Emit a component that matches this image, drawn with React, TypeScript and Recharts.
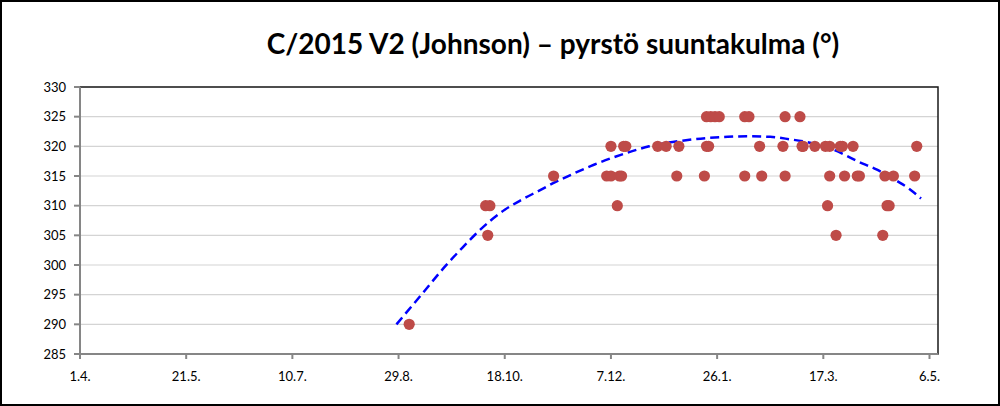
import React from "react";
import {
  ComposedChart,
  Scatter,
  Line,
  XAxis,
  YAxis,
  CartesianGrid,
  ReferenceArea,
} from "recharts";

// Day 0 = 1.4. (x axis in days)
const tickDays = [0, 50, 100, 150, 200, 250, 300, 350, 400];
const tickLabels = ["1.4.", "21.5.", "10.7.", "29.8.", "18.10.", "7.12.", "26.1.", "17.3.", "6.5."];
const yTicks = [285, 290, 295, 300, 305, 310, 315, 320, 325, 330];

const obsDays = [
  155,
  192, 356, 378,
  191, 193, 253, 352, 380, 381,
  223, 248, 250, 254, 255, 281, 294, 313, 321, 332, 353, 360, 366, 367, 379, 383, 393,
  250, 256, 257, 272, 276, 282, 295, 296, 320, 331, 340, 340.5, 346, 351, 353, 358, 359, 364, 394,
  295, 297, 299, 301, 313, 315, 332, 339,
];
const obsAngles = [
  290,
  305, 305, 305,
  310, 310, 310, 310, 310, 310,
  315, 315, 315, 315, 315, 315, 315, 315, 315, 315, 315, 315, 315, 315, 315, 315, 315,
  320, 320, 320, 320, 320, 320, 320, 320, 320, 320, 320, 320, 320, 320, 320, 320, 320, 320, 320,
  325, 325, 325, 325, 325, 325, 325, 325,
];

const trendDays = [149, 161, 172, 180, 186, 193, 200, 208, 216, 224, 233, 242, 255, 268, 287, 305, 314, 325, 334, 341, 355, 366, 375, 385, 391, 396];
const trendValues = [290, 295.1, 299.8, 302.9, 305.1, 307.4, 309.3, 311.0, 312.5, 314.0, 315.5, 316.9, 318.6, 320.0, 321.1, 321.6, 321.7, 321.6, 321.2, 320.8, 319.4, 317.5, 316.1, 314.1, 312.7, 311.2];

const points = obsDays.map((d, i) => ({ d, v: obsAngles[i] }));
const trend = trendDays.map((d, i) => ({ d, t: trendValues[i] }));

const FONT = "Lato, 'Open Sans', sans-serif";

const Dot = (p: any) => {
  if (p.cx == null || p.cy == null) return null;
  return <circle cx={p.cx} cy={p.cy} r={5.6} fill="#BE4B48" />;
};

export default function App() {
  return (
    <div
      style={{
        position: "absolute",
        left: 0,
        top: 0,
        width: 1000,
        height: 406,
        background: "#fff",
        boxSizing: "border-box",
        border: "2.5px solid #000",
        overflow: "hidden",
      }}
    >
      <div style={{ position: "absolute", left: -2.5, top: -2.5 }}>
        <ComposedChart
          width={1000}
          height={406}
          margin={{ top: 87, right: 62, bottom: 0, left: 20 }}
        >
          <text
            x={553}
            y={54}
            textAnchor="middle"
            fontFamily={FONT}
            fontWeight="bold"
            fontSize={28}
            fill="#000"
          >
            C/2015 V2 (Johnson) – pyrstö suuntakulma (°)
          </text>
          <CartesianGrid vertical={false} stroke="#D4D4D4" strokeWidth={1.2} />
          <ReferenceArea
            x1={0}
            x2={404}
            y1={285}
            y2={330}
            fill="none"
            stroke="#1a1a1a"
            strokeWidth={1.5}
            ifOverflow="visible"
          />
          <XAxis
            type="number"
            dataKey="d"
            domain={[0, 404]}
            ticks={tickDays}
            tickFormatter={(v: number) => tickLabels[tickDays.indexOf(v)] ?? ""}
            height={52}
            tickSize={5}
            tickMargin={13}
            stroke="#868686"
            strokeWidth={2}
            tick={{ fill: "#000", fontSize: 13, fontFamily: FONT }}
            allowDataOverflow
          />
          <YAxis
            type="number"
            domain={[285, 330]}
            ticks={yTicks}
            width={60}
            tickSize={6}
            tickMargin={8}
            stroke="#868686"
            strokeWidth={2}
            tick={{ fill: "#000", fontSize: 13, fontFamily: FONT }}
            interval={0}
          />
          <Line
            data={trend}
            dataKey="t"
            type="monotone"
            stroke="#0000FF"
            strokeWidth={2.5}
            strokeDasharray="9 5"
            dot={false}
            activeDot={false}
            isAnimationActive={false}
          />
          <Scatter
            data={points}
            dataKey="v"
            shape={Dot}
            isAnimationActive={false}
          />
        </ComposedChart>
      </div>
    </div>
  );
}
